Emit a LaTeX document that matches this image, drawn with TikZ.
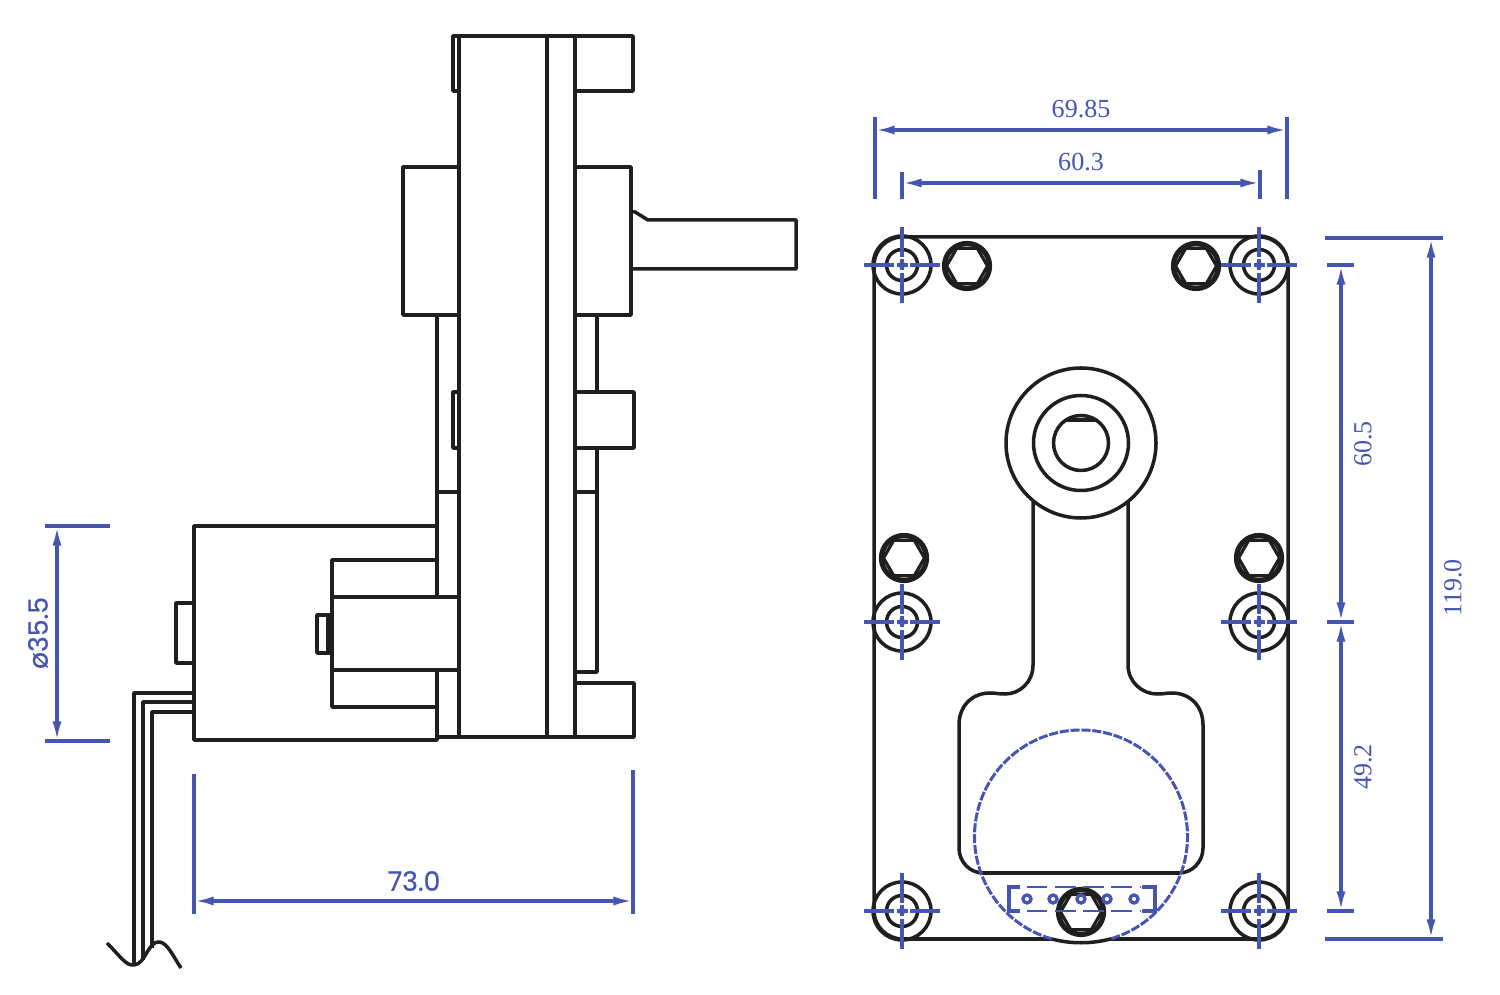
\documentclass[tikz,border=0pt]{standalone}
\usepackage{fontspec}
\setmainfont{Liberation Serif}
\newfontfamily\dimsans[FakeBold=0.5]{Poppins}
\usetikzlibrary{arrows.meta}
\definecolor{dimblue}{RGB}{68,86,178}
\tikzset{
  part/.style={black!88,line width=1pt,line join=round},
  nut/.style={black!88,line width=1.5pt},
  dimline/.style={dimblue,line width=0.95pt,{Latex[length=5.6pt,width=2.6pt]}-{Latex[length=5.6pt,width=2.6pt]}},
  dimtick/.style={dimblue,line width=0.95pt},
  hidden/.style={dimblue,line width=0.85pt,dash pattern=on 2.6pt off 0.5pt},
  hiddenlong/.style={dimblue,line width=0.85pt,dash pattern=on 5.8pt off 2.2pt},
  dimtext/.style={text=dimblue,inner sep=0pt,font=\fontsize{7.4}{9}\selectfont},
  dimsanstext/.style={text=dimblue,inner sep=0pt,font=\dimsans\fontsize{7.6}{9}\selectfont}
}
\begin{document}
\begin{tikzpicture}[x=0.01cm,y=-0.01cm]
    \useasboundingbox (0,0) rectangle (1500,995);
    % side view
    \begin{scope}[part]
      \draw (459,36) rectangle (575,737);
      \draw (547,36) -- (547,737);
      \draw (459,36) -- (453,36) -- (453,91) -- (459,91);
      \draw (575,36) -- (633,36) -- (633,91) -- (575,91);
      \draw (459,167) -- (403,167) -- (403,315) -- (459,315);
      \draw (575,167) -- (631,167) -- (631,315) -- (575,315);
      \draw (631,212) -- (635,212) -- (648,220) -- (796,220) -- (796,269) -- (631,269);
      \draw (437,315) -- (437,597);
      \draw (597,315) -- (597,392);
      \draw (597,448) -- (597,672) -- (575,672);
      \draw (437,492) -- (459,492);
      \draw (575,492) -- (597,492);
      \draw (459,392) -- (453,392) -- (453,448) -- (459,448);
      \draw (575,392) -- (634,392) -- (634,448) -- (575,448);
      \draw (575,683) -- (634,683) -- (634,737) -- (575,737);
      \draw (437,737) -- (459,737);
      % motor
      \draw (437,526) -- (194,526) -- (194,740) -- (437,740) -- (437,670);
      \draw (437,560) -- (332,560) -- (332,707) -- (437,707);
      \draw (332,597) -- (459,597);
      \draw (332,670) -- (459,670);
      \draw (332,615) -- (317,615) -- (317,653) -- (332,653);
      \draw (328,617) -- (328,651);
      \draw (194,603) -- (176,603) -- (176,663) -- (194,663);
      % wires
      \draw (194,693) -- (134,693) -- (134,965);
      \draw (194,702) -- (143,702) -- (143,960);
      \draw (194,712) -- (152,712) -- (152,948);
      \draw (107,943) .. controls (120,956) and (126,966) .. (134,965)
        .. controls (146,964) and (148,940) .. (160,942)
        .. controls (168,944) and (173,956) .. (181,968);
    \end{scope}
    % front view plate
    \draw[part,rounded corners=0.285cm] (1052,939) -- (874,939) -- (874,237) -- (1288,237) -- (1288,939) -- (1110,939);
    \draw[part] (1052,939) .. controls (1070,944) and (1092,944) .. (1110,939);
    % hub and arm
    \draw[part] (1033,502) -- (1033,665) .. controls (1033,682) and (1020,694) .. (1005,694)
      .. controls (998,694) and (996,693) .. (990,693) .. controls (972,693) and (959,706) .. (959,725)
      -- (959,848) .. controls (959,862) and (970,873) .. (983,873) -- (1179,873)
      .. controls (1192,873) and (1203,862) .. (1203,848) -- (1203,725)
      .. controls (1203,706) and (1190,693) .. (1172,693) .. controls (1166,693) and (1164,694) .. (1157,694)
      .. controls (1142,694) and (1128,682) .. (1128,665) -- (1128,502);
    \foreach \r in {75,47.5,27.5}{
      \draw[part] (1081,443) circle (\r);
    }
    \draw[part,line width=1.3pt] (1066,420) -- (1096,420);
    % mounting holes
    \foreach \x/\y in {902/265,1259/265,902/622,1259/622,902/911,1259/911}{
      \draw[part] (\x,\y) circle (29);
      \draw[part] (\x,\y) circle (15.5);
    }
    % hex screws
    \foreach \x/\y in {967/266,1196/266,904/558,1259/558,1081/912}{
      \draw[nut] (\x,\y) circle (22.5);
      \begin{scope}[shift={(\x,\y)}]
        \draw[part,line width=0.9pt] (0:20.5) -- (60:20.5) -- (120:20.5) -- (180:20.5) -- (240:20.5) -- (300:20.5) -- cycle;
      \end{scope}
    }
    % centre marks
    \foreach \x/\y in {902/265,1259/265,902/622,1259/622,902/911,1259/911}{
      \draw[dimtick] (\x-38,\y) -- (\x-8,\y) (\x-5.5,\y) -- (\x+5.5,\y) (\x+8,\y) -- (\x+38,\y);
      \draw[dimtick] (\x,\y-38) -- (\x,\y-8) (\x,\y-5.5) -- (\x,\y+5.5) (\x,\y+8) -- (\x,\y+38);
      \fill[dimblue] (\x,\y) circle (3.5);
    }
    % motor outline and connector
    \draw[hidden] (1081,836.5) ++(106:106.5) arc[start angle=106,end angle=434,radius=106.5];
    \draw[hiddenlong] (1027,887) -- (1140,887);
    \draw[hiddenlong] (1027,911) -- (1140,911);
    \draw[dimtick] (1020,887) -- (1009,887) -- (1009,911) -- (1020,911);
    \draw[dimtick] (1142,887) -- (1155,887) -- (1155,911) -- (1142,911);
    \foreach \x in {1027,1053,1081,1107,1134}{
      \draw[dimtick] (\x,899) circle (4);
    }
    % dimensions
    \draw[dimtick] (875,117) -- (875,199);
    \draw[dimtick] (1287,117) -- (1287,199);
    \draw[dimline] (875,130) -- (1287,130);
    \node[dimtext] (dimA) at (1081,109) {69.85};
    \draw[dimtick] (902,172) -- (902,199);
    \draw[dimtick] (1260,170) -- (1260,199);
    \draw[dimline] (902,183) -- (1260,183);
    \node[dimtext] (dimB) at (1081,162) {60.3};
    \draw[dimtick] (1325,238) -- (1443,238);
    \draw[dimtick] (1325,939) -- (1443,939);
    \draw[dimline] (1431,238) -- (1431,939);
    \node[dimtext,rotate=90] (dimC) at (1453,588) {119.0};
    \draw[dimtick] (1327,265) -- (1354,265);
    \draw[dimtick] (1327,622) -- (1354,622);
    \draw[dimtick] (1327,911) -- (1354,911);
    \draw[dimline] (1341,265) -- (1341,622);
    \draw[dimline] (1341,622) -- (1341,911);
    \node[dimtext,rotate=90] (dimD) at (1363,444) {60.5};
    \node[dimtext,rotate=90] (dimE) at (1363,767) {49.2};
    \draw[dimtick] (45,526) -- (110,526);
    \draw[dimtick] (45,741) -- (110,741);
    \draw[dimline] (57,526) -- (57,741);
    \node[dimsanstext,rotate=90] (dimF) at (38,633) {ø35.5};
    \draw[dimtick] (194,774) -- (194,914);
    \draw[dimtick] (633,770) -- (633,914);
    \draw[dimline] (194,901) -- (633,901);
    \node[dimsanstext] (dimG) at (414,881) {73.0};
  \end{tikzpicture}
\end{document}
